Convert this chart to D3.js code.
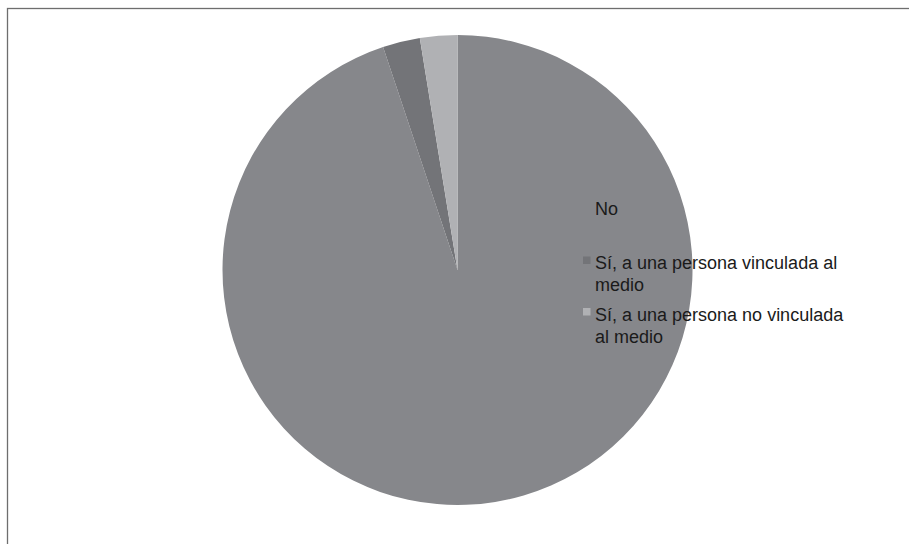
<!DOCTYPE html>
<html>
<head>
<meta charset="utf-8">
<script src="https://cdn.jsdelivr.net/npm/d3@7"></script>
<style>
  html, body { margin: 0; padding: 0; background: #fff; }
  svg { display: block; }
</style>
</head>
<body>
<svg id="chart" width="909" height="544"></svg>
<script>
// Respuestas: ¿se lo comunicó a alguien?
const categories = ["No", "Sí, a una persona vinculada al medio", "Sí, a una persona no vinculada al medio"];
const legendLines = [["No"], ["Sí, a una persona vinculada al", "medio"], ["Sí, a una persona no vinculada", "al medio"]];
const values = [74, 2, 2];
const colors = ["#86878b", "#737478", "#b0b1b4"];

const svg = d3.select("#chart");
const W = 909, H = 544;

// chart area frame (runs off the right and bottom edges)
svg.append("rect")
  .attr("x", 7.5).attr("y", 8.5)
  .attr("width", W + 10).attr("height", H + 10)
  .attr("fill", "#fff")
  .attr("stroke", "#6e6e6e")
  .attr("stroke-width", 1.3);

const cx = 457.5, cy = 270, r = 235;

const pie = d3.pie().sort(null).value(d => d.value);
const arc = d3.arc().innerRadius(0).outerRadius(r);
const color = d3.scaleOrdinal().domain(categories).range(colors);

const data = categories.map((c, i) => ({ name: c, value: values[i] }));

svg.append("g")
  .attr("transform", `translate(${cx},${cy})`)
  .selectAll("path")
  .data(pie(data))
  .join("path")
  .attr("d", arc)
  .attr("fill", d => color(d.data.name));

// legend
const lx = 583, textX = 595;
const baselines = [214.5, 269, 320.5];
const lineH = 22;
const legend = svg.append("g");
categories.forEach((c, i) => {
  const g = legend.append("g");
  g.append("rect")
    .attr("x", lx).attr("y", baselines[i] - 12.5)
    .attr("width", 7.5).attr("height", 7.5)
    .attr("fill", color(c));
  const t = g.append("text")
    .attr("x", textX).attr("y", baselines[i])
    .attr("font-family", "'Liberation Sans', Arial, sans-serif")
    .attr("font-size", 18)
    .attr("fill", "#1a1a1a");
  legendLines[i].forEach((ln, j) => {
    t.append("tspan").attr("x", textX).attr("dy", j === 0 ? 0 : lineH).text(ln);
  });
});
</script>
</body>
</html>
